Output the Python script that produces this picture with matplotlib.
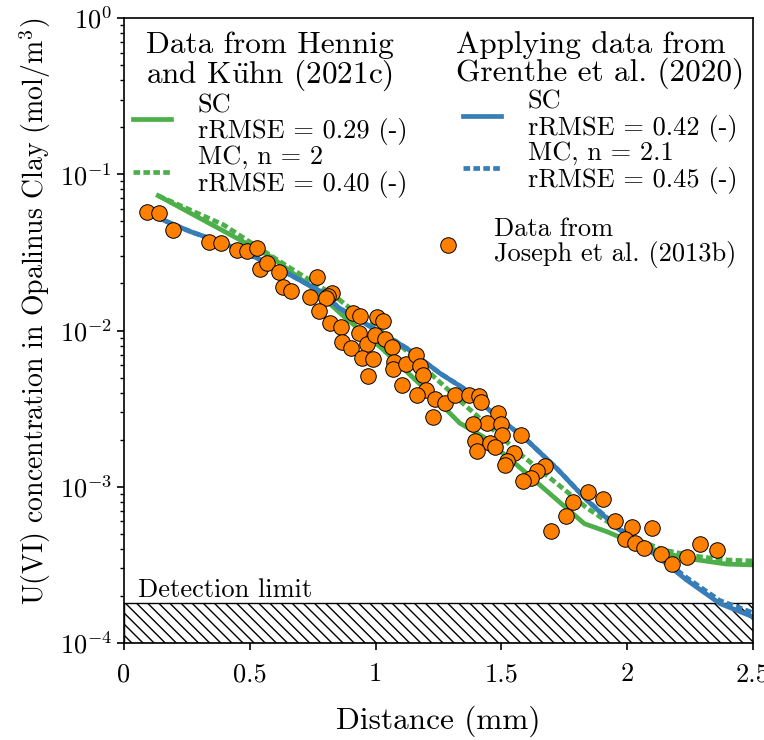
import numpy as np
import matplotlib
matplotlib.use("Agg")
import matplotlib.pyplot as plt
from matplotlib.ticker import FormatStrFormatter, LogLocator, NullFormatter

plt.rcParams['font.family'] = 'cmr10'
plt.rcParams['mathtext.fontset'] = 'cm'
plt.rcParams['axes.formatter.use_mathtext'] = True
plt.rcParams['hatch.linewidth'] = 1.0

# measured U(VI) profile, Joseph et al. (2013b)
dist_meas = [0.093, 0.138, 0.194, 0.338, 0.384, 0.448, 0.489, 0.529, 0.539, 0.570,
             0.615, 0.631, 0.662, 0.768, 0.741, 0.825, 0.811, 0.802, 0.776, 0.817,
             0.863, 0.868, 0.911, 0.938, 1.007, 1.028, 0.902, 0.934, 0.965, 0.998,
             1.037, 1.064, 0.945, 0.988, 0.971, 1.074, 1.068, 1.120, 1.162, 1.178,
             1.188, 1.103, 1.200, 1.166, 1.237, 1.275, 1.317, 1.228, 1.372, 1.412,
             1.419, 1.485, 1.442, 1.498, 1.386, 1.501, 1.577, 1.395, 1.455, 1.475,
             1.403, 1.550, 1.521, 1.514, 1.673, 1.643, 1.618, 1.585, 1.843, 1.786,
             1.756, 1.697, 1.905, 1.950, 2.018, 2.097, 1.990, 2.032, 2.068, 2.135,
             2.178, 2.238, 2.289, 2.356]
conc_meas = [0.0573, 0.0565, 0.0442, 0.0370, 0.0361, 0.0326, 0.0324, 0.0339, 0.0246, 0.0270,
             0.0238, 0.0191, 0.0180, 0.0219, 0.0163, 0.0173, 0.0166, 0.0161, 0.0133, 0.0111,
             0.01057, 0.00850, 0.0129, 0.0124, 0.01226, 0.0115, 0.00769, 0.00960, 0.00816, 0.00936,
             0.00886, 0.00787, 0.00670, 0.00654, 0.00511, 0.00632, 0.00565, 0.00610, 0.00700, 0.00595,
             0.00519, 0.00449, 0.00417, 0.00385, 0.00366, 0.00342, 0.00388, 0.00281, 0.00385, 0.00381,
             0.00350, 0.00295, 0.00255, 0.00252, 0.00251, 0.00214, 0.00214, 0.00197, 0.00191, 0.00180,
             0.00169, 0.00165, 0.00146, 0.00138, 0.00136, 0.00127, 0.00114, 0.00109, 0.000930, 0.000802,
             0.000650, 0.000523, 0.000841, 0.000601, 0.000550, 0.000542, 0.000463, 0.000435, 0.000408, 0.000373,
             0.000319, 0.000354, 0.000427, 0.000394]

# model runs with Hennig and Kuehn (2021c) parameters
dist_h_sc = [0.136, 0.461, 0.583, 0.742, 0.874, 1.017, 1.124, 1.256, 1.335, 1.428,
             1.561, 1.830, 1.919, 1.998, 2.130, 2.236, 2.395, 2.500]
conc_h_sc = [0.0729, 0.0380, 0.0297, 0.0191, 0.0123, 0.00788, 0.00545, 0.00342, 0.00255, 0.00209,
             0.00138, 0.000580, 0.000516, 0.000456, 0.000384, 0.000348, 0.000320, 0.000316]
dist_h_mc = [0.136, 0.397, 0.620, 0.832, 0.965, 1.084, 1.203, 1.362, 1.468, 1.587,
             1.720, 1.839, 2.011, 2.143, 2.263, 2.395, 2.500]
conc_h_mc = [0.0729, 0.0473, 0.0276, 0.0169, 0.0114, 0.00847, 0.00558, 0.00325, 0.00231, 0.00156,
             0.00105, 0.000733, 0.000479, 0.000394, 0.000361, 0.000340, 0.000335]

# model runs with Grenthe et al. (2020) data
dist_g = [0.130, 0.265, 0.397, 0.530, 0.663, 0.795, 0.850, 0.991, 1.124, 1.256,
          1.349, 1.468, 1.601, 1.720, 1.839, 1.971, 2.104, 2.236, 2.368, 2.500]
conc_g_sc = [0.0530, 0.0429, 0.0361, 0.0290, 0.0226, 0.0173, 0.0141, 0.01033, 0.00769, 0.00532,
             0.00427, 0.00295, 0.00199, 0.00131, 0.000822, 0.000528, 0.000375, 0.000253, 0.000179, 0.000147]
conc_g_mc = [0.0530, 0.0429, 0.0361, 0.0290, 0.0226, 0.0173, 0.0141, 0.01033, 0.00769, 0.00532,
             0.00427, 0.00295, 0.00199, 0.00131, 0.000825, 0.000535, 0.000385, 0.000262, 0.000187, 0.000156]

detection_limit = 1.8e-4
x_ticks = [0, 0.5, 1, 1.5, 2, 2.5]

green = '#4daf4a'
blue = '#377eb8'
orange = '#ff7f00'

fs_small = 19
fs_title = 22.5

fig = plt.figure(figsize=(7.64, 7.40), dpi=100)
ax = fig.add_axes([124 / 764, 1 - 643 / 740, 629 / 764, 625 / 740])

ax.fill_between([0, 2.5], 1e-4, detection_limit, facecolor='white', edgecolor='black',
                hatch='\\\\\\', linewidth=1.0, zorder=1)
ax.text(0.055, detection_limit * 1.02, 'Detection limit', fontsize=fs_small, va='bottom', ha='left')

l1, = ax.plot(dist_h_sc, conc_h_sc, color=green, lw=3.4, zorder=2)
l2, = ax.plot(dist_h_mc, conc_h_mc, color=green, lw=3.4, dashes=(1.4, 0.7), zorder=2)
l3, = ax.plot(dist_g, conc_g_sc, color=blue, lw=3.4, zorder=2)
l4, = ax.plot(dist_g, conc_g_mc, color=blue, lw=3.4, dashes=(1.4, 0.7), zorder=2)
pts = ax.scatter(dist_meas, conc_meas, s=125, color=orange, edgecolor='black',
                 linewidth=0.7, zorder=3)

ax.set_yscale('log')
ax.set_xlim(0, 2.5)
ax.set_ylim(1e-4, 1e0)
ax.set_xticks(x_ticks)
ax.xaxis.set_major_formatter(FormatStrFormatter('%g'))
ax.yaxis.set_minor_locator(LogLocator(base=10, subs=np.arange(2, 10)))
ax.yaxis.set_minor_formatter(NullFormatter())
ax.tick_params(which='major', direction='out', length=5, width=1.2, labelsize=fs_small)
ax.tick_params(axis='x', which='major', pad=9)
ax.tick_params(which='minor', direction='out', length=3, width=1.0)
for sp in ax.spines.values():
    sp.set_linewidth(1.2)

ax.set_xlabel('Distance (mm)', fontsize=22.5, labelpad=14)
ax.set_ylabel('U(VI) concentration in Opalinus Clay (mol/m$^3$)', fontsize=20)
ax.yaxis.set_label_coords(-0.113, 0.53)

leg_kw = dict(loc='upper left', frameon=False, fontsize=fs_small, title_fontsize=fs_title,
              handlelength=1.45, handletextpad=1.0, borderpad=0, borderaxespad=0,
              labelspacing=0.0)

leg1 = ax.legend([l1, l2], ['SC\nrRMSE = 0.29 (-)', 'MC, n = 2\nrRMSE = 0.40 (-)'],
                 title='Data from Hennig\nand K$\\mathrm{\\ddot{u}}$hn (2021c)',
                 bbox_to_anchor=(0.0143, 0.979), **leg_kw)
ax.add_artist(leg1)

leg2 = ax.legend([l3, l4], ['SC\nrRMSE = 0.42 (-)', 'MC, n = 2.1\nrRMSE = 0.45 (-)'],
                 title='Applying data from\nGrenthe et al. (2020)',
                 bbox_to_anchor=(0.528, 0.979), **leg_kw)
ax.add_artist(leg2)

for leg in (leg1, leg2):
    leg.get_title().set_linespacing(0.95)
    for t in leg.get_texts():
        t.set_linespacing(1.07)

leg3 = ax.legend([pts], ['Data from\nJoseph et al. (2013b)'], loc='center left',
                 bbox_to_anchor=(0.485, 0.641), frameon=False, fontsize=fs_small,
                 handlelength=1.45, handletextpad=1.0, borderpad=0, borderaxespad=0)
for t in leg3.get_texts():
    t.set_linespacing(1.0)

fig.savefig('out.png', dpi=100)
